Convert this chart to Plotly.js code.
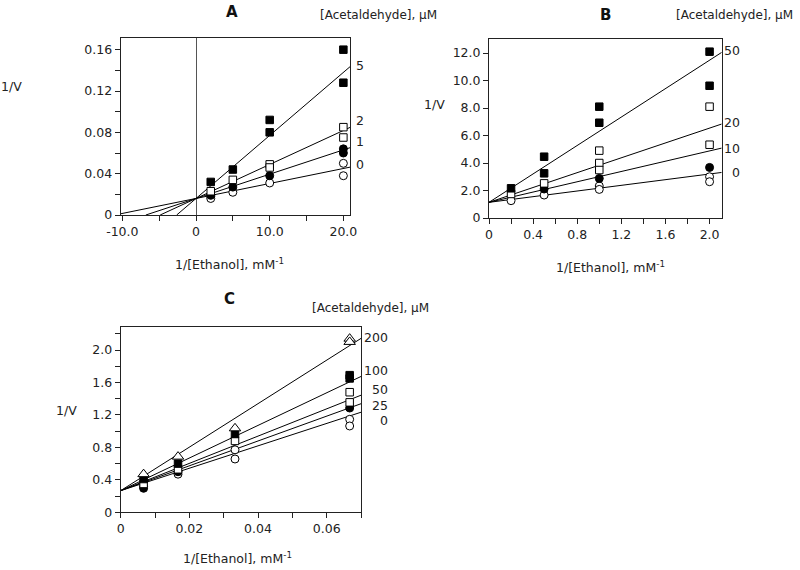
<!DOCTYPE html>
<html><head><meta charset="utf-8">
<script src="https://cdn.plot.ly/plotly-3.0.1.min.js"></script>
<style>body{margin:0;background:#fff}#c{width:800px;height:570px}</style>
</head><body><div id="c"></div>
<script>
// ---------- Panel A data ----------
const aConc = ["5", "2", "1", "0"];
const aX5 = [2, 5, 10, 10, 20, 20];
const aY5 = [0.032, 0.044, 0.092, 0.080, 0.160, 0.128];
const aX2 = [2, 5, 10, 10, 20, 20];
const aY2 = [0.023, 0.034, 0.049, 0.046, 0.085, 0.075];
const aX1 = [2, 5, 10, 20, 20];
const aY1 = [0.019, 0.027, 0.038, 0.064, 0.060];
const aX0 = [2, 2, 5, 10, 20, 20];
const aY0 = [0.018, 0.016, 0.022, 0.031, 0.050, 0.038];
const aIntercept = [0.016, 0.016, 0.016, 0.016];
const aSlope = [0.0061, 0.00329, 0.00235, 0.00145];
const aXTicks = [-10, 0, 10, 20];
const aXTickText = ["-10.0", "0", "10.0", "20.0"];
const aYTicks = [0, 0.04, 0.08, 0.12, 0.16];
const aYTickText = ["0", "0.04", "0.08", "0.12", "0.16"];

// ---------- Panel B data ----------
const bConc = ["50", "20", "10", "0"];
const bX50 = [0.2, 0.5, 0.5, 1, 1, 2, 2];
const bY50 = [2.16, 4.46, 3.25, 8.10, 6.93, 12.1, 9.62];
const bX20 = [0.2, 0.5, 1, 1, 1, 2, 2];
const bY20 = [1.75, 2.52, 4.90, 4.00, 3.49, 8.10, 5.33];
const bX10 = [0.5, 1, 2];
const bY10 = [2.11, 2.88, 3.68];
const bX0 = [0.2, 0.5, 1, 1, 2, 2];
const bY0 = [1.26, 1.67, 2.33, 2.08, 3.00, 2.64];
const bIntercept = [1.14, 1.14, 1.14, 1.14];
const bSlope = [5.17, 2.70, 1.87, 1.03];
const bXTicks = [0, 0.4, 0.8, 1.2, 1.6, 2.0];
const bXTickText = ["0", "0.4", "0.8", "1.2", "1.6", "2.0"];
const bYTicks = [0, 2, 4, 6, 8, 10, 12];
const bYTickText = ["0", "2.0", "4.0", "6.0", "8.0", "10.0", "12.0"];

// ---------- Panel C data ----------
const cConc = ["200", "100", "50", "25", "0"];
const cX200 = [0.00667, 0.0167, 0.0333, 0.0667, 0.0667];
const cY200 = [0.47, 0.686, 1.035, 2.14, 2.10];
const cX100 = [0.00667, 0.0167, 0.0333, 0.0667, 0.0667];
const cY100 = [0.41, 0.60, 0.965, 1.69, 1.65];
const cX50 = [0.00667, 0.0167, 0.0333, 0.0667, 0.0667];
const cY50 = [0.35, 0.53, 0.88, 1.48, 1.355];
const cX25 = [0.00667, 0.0167, 0.0667];
const cY25 = [0.296, 0.50, 1.285];
const cX0 = [0.00667, 0.0167, 0.0333, 0.0333, 0.0667, 0.0667];
const cY0 = [0.32, 0.47, 0.77, 0.657, 1.146, 1.064];
const cIntercept = [0.267, 0.267, 0.267, 0.267, 0.267];
const cSlope = [26.8, 20.1, 16.8, 15.3, 13.8];
const cXTicks = [0, 0.02, 0.04, 0.06];
const cXTickText = ["0", "0.02", "0.04", "0.06"];
const cYTicks = [0, 0.4, 0.8, 1.2, 1.6, 2.0];
const cYTickText = ["0", "0.4", "0.8", "1.2", "1.6", "2.0"];

// ---------- layout helpers ----------
const W = 800, H = 570;
const FONT = "DejaVu Sans, Verdana, sans-serif";
const FS = 12.5;
const INK = "#222";
const px = v => v / W;
const py = v => 1 - v / H;

const aRangeX = [-10.22, 20.9], aRangeY = [0, 0.171];
const bRangeX = [0, 2.11], bRangeY = [0, 13.0];
const cRangeX = [0, 0.07], cRangeY = [0, 2.28];

function fitLine(b, m, xr, yr, xa, ya) {
  let x0 = xr[0];
  if (b + m * x0 < yr[0]) x0 = (yr[0] - b) / m;
  const x1 = xr[1];
  return {x: [x0, x1], y: [b + m * x0, b + m * x1], mode: "lines", type: "scatter",
    line: {color: "#000", width: 1}, xaxis: xa, yaxis: ya, hoverinfo: "skip", showlegend: false};
}
function pts(x, y, symbol, filled, size, xa, ya) {
  return {x: x, y: y, mode: "markers", type: "scatter", xaxis: xa, yaxis: ya, showlegend: false,
    marker: {symbol: symbol, size: size, color: filled ? "#000" : "#fff", line: {color: "#000", width: 1}}};
}

const traces = [];
aSlope.forEach((m, i) => traces.push(fitLine(aIntercept[i], m, aRangeX, aRangeY, "x", "y")));
bSlope.forEach((m, i) => traces.push(fitLine(bIntercept[i], m, bRangeX, bRangeY, "x2", "y2")));
cSlope.forEach((m, i) => traces.push(fitLine(cIntercept[i], m, cRangeX, cRangeY, "x3", "y3")));

traces.push(pts(aX0, aY0, "circle", false, 8, "x", "y"));
traces.push(pts(aX1, aY1, "circle", true, 8, "x", "y"));
traces.push(pts(aX2, aY2, "square", false, 7.5, "x", "y"));
traces.push(pts(aX5, aY5, "square", true, 7.5, "x", "y"));

traces.push(pts(bX0, bY0, "circle", false, 8, "x2", "y2"));
traces.push(pts(bX10, bY10, "circle", true, 8, "x2", "y2"));
traces.push(pts(bX20, bY20, "square", false, 7.5, "x2", "y2"));
traces.push(pts(bX50, bY50, "square", true, 7.5, "x2", "y2"));

traces.push(pts(cX0, cY0, "circle", false, 8, "x3", "y3"));
traces.push(pts(cX25, cY25, "circle", true, 8, "x3", "y3"));
traces.push(pts(cX50, cY50, "square", false, 7.5, "x3", "y3"));
traces.push(pts(cX100, cY100, "square", true, 7.5, "x3", "y3"));
traces.push(pts(cX200, cY200, "triangle-up", false, 10, "x3", "y3"));

function axis(range, domain, tv, tt, anchor, minorStep, extra) {
  const a = {
    range: range, domain: domain, anchor: anchor, tickmode: "array", tickvals: tv, ticktext: tt,
    ticks: "outside", ticklen: 5, tickwidth: 1, tickcolor: INK, showline: true, mirror: true,
    linecolor: INK, linewidth: 1, showgrid: false, zeroline: false, automargin: false,
    tickfont: {family: FONT, size: FS, color: INK}, fixedrange: true
  };
  if (minorStep) a.minor = {tickmode: "linear", tick0: 0, dtick: minorStep, ticks: "outside",
    ticklen: 5, tickwidth: 1, tickcolor: INK, showgrid: false};
  return Object.assign(a, extra || {});
}

const ann = [];
function txt(t, x, y, opts) {
  ann.push(Object.assign({text: t, x: px(x), y: py(y), xref: "paper", yref: "paper", showarrow: false,
    xanchor: "center", yanchor: "middle", font: {family: FONT, size: FS, color: INK}}, opts || {}));
}
const bold = {font: {family: "DejaVu Sans, sans-serif", size: 15, color: "#111", weight: "bold"}};
txt("<b>A</b>", 231.7, 11.7, bold);
txt("<b>B</b>", 605, 15, bold);
txt("<b>C</b>", 230, 299.3, bold);
const hdr = "[Acetaldehyde], μM";
const hdrFont = {family: FONT, size: 12, color: INK};
txt(hdr, 318, 15, {xanchor: "left", font: hdrFont});
txt(hdr, 795, 15, {xanchor: "right", font: hdrFont});
txt(hdr, 310, 308.3, {xanchor: "left", font: hdrFont});
const xt = "1/[Ethanol], mM<sup>-1</sup>";
txt(xt, 229, 264);
txt(xt, 610, 266.7);
txt(xt, 237, 558.3);
txt("1/V", 11.5, 86.7);
txt("1/V", 435, 104);
txt("1/V", 66, 410.7);
const aLabY = [65.7, 120, 141.7, 164.3];
aConc.forEach((c, i) => txt(c, 366, aLabY[i], {xanchor: "right"}));
const bLabY = [50.7, 122.7, 149, 172.3];
bConc.forEach((c, i) => txt(c, 742, bLabY[i], {xanchor: "right"}));
const cLabY = [337.3, 370.7, 389.3, 405, 420];
cConc.forEach((c, i) => txt(c, 390, cLabY[i], {xanchor: "right"}));

const layout = {
  width: W, height: H, margin: {l: 0, r: 0, t: 0, b: 0}, paper_bgcolor: "#fff", plot_bgcolor: "#fff",
  showlegend: false, font: {family: FONT, size: FS, color: INK},
  xaxis: axis(aRangeX, [px(120.7), px(350)], aXTicks, aXTickText, "y", 5,
    {zeroline: true, zerolinecolor: "#555", zerolinewidth: 1}),
  yaxis: axis(aRangeY, [py(215), py(38.3)], aYTicks, aYTickText, "x", 0.02),
  xaxis2: axis(bRangeX, [px(489), px(721.7)], bXTicks, bXTickText, "y2", 0.2),
  yaxis2: axis(bRangeY, [py(218), py(39.3)], bYTicks, bYTickText, "x2", null),
  xaxis3: axis(cRangeX, [px(120.7), px(361)], cXTicks, cXTickText, "y3", 0.01),
  yaxis3: axis(cRangeY, [py(512.3), py(327.3)], cYTicks, cYTickText, "x3", 0.2),
  annotations: ann
};
Plotly.newPlot("c", traces, layout, {staticPlot: true, displayModeBar: false});
</script>
</body></html>
